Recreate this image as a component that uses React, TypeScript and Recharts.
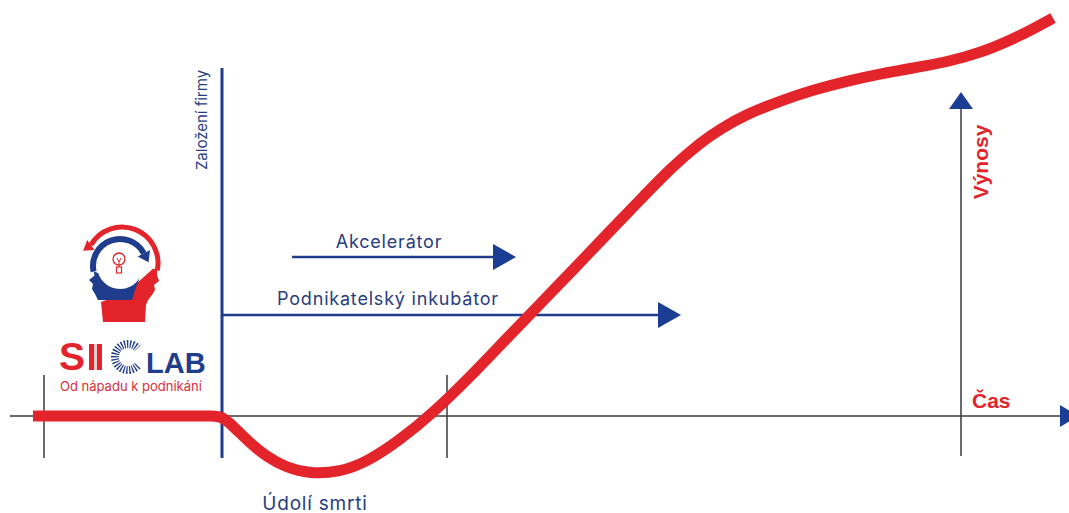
import React from "react";
import { LineChart, Line, XAxis, YAxis, ReferenceLine, ReferenceDot } from "recharts";

// Time axis positions and revenue curve values (revenue: 0 = break-even line)
const timePoints = [33, 200, 212, 222, 236, 250, 267, 285, 310, 340, 367, 400, 433, 470, 507, 540, 573, 607, 640, 673, 700, 720, 747, 780, 813, 847, 880, 913, 947, 980, 1013, 1033, 1053];
const revenueValues = [0, 0, 0, 0, -13, -27, -41, -51, -58, -56, -46, -24, 3, 39, 78, 112, 146, 182, 216, 250, 273, 287, 302, 315, 326, 335, 342, 348, 354, 363, 377, 387, 398];

// Milestones on the time axis
const milestoneTicks = [44, 447];
const foundingTime = 222;
const revenueAxisTime = 961;

// Programme ranges (start, end, level)
const programLabels = ["Akcelerátor", "Podnikatelský inkubátor"];
const programStart = [292, 222];
const programEnd = [493, 658];
const programLevel = [159, 101];
const programLabelX = [389, 388];
const programLabelLevel = [175, 118];

const curve = timePoints.map((t, i) => ({ t, v: revenueValues[i] }));

const BLUE = "#1f3d8c";
const BLUE_TEXT = "#283d7e";
const RED = "#e3242b";
const DARK = "#3a3a3a";
const FONT = "Inter, 'Noto Sans', sans-serif";
const BOLD_FONT = "'Liberation Sans', Arial, sans-serif";

const arrowHead = (dir: "right" | "up", len: number, half: number, fill: string) => (props: any) => {
  const { cx, cy } = props;
  if (cx == null || cy == null) return <g />;
  const pts =
    dir === "right"
      ? `${cx},${cy - half} ${cx + len},${cy} ${cx},${cy + half}`
      : `${cx - half},${cy} ${cx},${cy - len} ${cx + half},${cy}`;
  return <polygon points={pts} fill={fill} />;
};

const textShape = (
  text: string,
  opts: { size: number; fill: string; anchor?: string; angle?: number; weight?: number; family?: string; spacing?: number }
) => (props: any) => {
  const { cx, cy } = props;
  if (cx == null || cy == null) return <g />;
  return (
    <text
      x={cx}
      y={cy}
      fill={opts.fill}
      fontSize={opts.size}
      fontFamily={opts.family || FONT}
      fontWeight={opts.weight || 400}
      letterSpacing={opts.spacing || 0}
      textAnchor={(opts.anchor as any) || "middle"}
      dominantBaseline="central"
      transform={opts.angle ? `rotate(${opts.angle} ${cx} ${cy})` : undefined}
    >
      {text}
    </text>
  );
};

function Logo() {
  const rc = { x: 122, y: 263, r: 36 };
  const bc = { x: 120, y: 266, r: 27 };
  const p = (c: any, deg: number) => {
    const a = (deg * Math.PI) / 180;
    return [c.x + c.r * Math.cos(a), c.y + c.r * Math.sin(a)];
  };
  // arrow head polygon at point with tangent direction
  const head = (x: number, y: number, dx: number, dy: number, len: number, half: number) => {
    const nx = -dy, ny = dx;
    return `${x + dx * len},${y + dy * len} ${x + nx * half},${y + ny * half} ${x - nx * half},${y - ny * half}`;
  };
  const ra0 = -150, ra1 = 12;
  const [r0x, r0y] = p(rc, ra0);
  const [r1x, r1y] = p(rc, ra1);
  const t0 = (ra0 * Math.PI) / 180;
  const redHead = head(r0x, r0y, Math.sin(t0) * 0.6 - 0.4, -Math.cos(t0) * 0.6, 11, 7);
  const ba0 = 168, ba1 = 332;
  const [b0x, b0y] = p(bc, ba0);
  const [b1x, b1y] = p(bc, ba1);
  const t1 = (ba1 * Math.PI) / 180;
  const blueHead = head(b1x, b1y, -Math.sin(t1), Math.cos(t1), 10, 7);
  const inner = { x: 120, y: 266, r: 23 };
  const [i0x, i0y] = p(inner, 30);
  const [i1x, i1y] = p(inner, 162);
  const cc = { x: 128, y: 357, r: 13 };
  const [c0x, c0y] = p(cc, 42);
  const [c1x, c1y] = p(cc, 318);
  return (
    <svg width={1069} height={513} style={{ position: "absolute", left: 0, top: 0, pointerEvents: "none" }}>
      {/* red head facing right */}
      <path d={`M${r1x - 4},${r1y - 2} L${r1x},${r1y} L157,275 L159,281 L154,285 L155,290 L152,295 L148,300 L146,305 L145,322 L103,322 L101,302 L112,298 L131,298 L136,284 Z`} fill={RED} />
      {/* blue head facing left */}
      <path d={`M${b0x},${b0y} L${b0x + 1},${b0y + 4} L89,280 L93,284 L92,289 L95,294 L98,300 L132,300 L135,290 L${i0x},${i0y} A${inner.r},${inner.r} 0 0 1 ${i1x},${i1y} Z`} fill={BLUE} />
      <path d={`M${r0x},${r0y} A${rc.r},${rc.r} 0 0 1 ${r1x},${r1y}`} fill="none" stroke={RED} strokeWidth={5} />
      <polygon points={redHead} fill={RED} />
      <path d={`M${b0x},${b0y} A${bc.r},${bc.r} 0 0 1 ${b1x},${b1y}`} fill="none" stroke={BLUE} strokeWidth={6} />
      <polygon points={blueHead} fill={BLUE} />
      {/* bulb */}
      <circle cx={119} cy={259} r={6} fill="none" stroke={RED} strokeWidth={1.3} />
      <rect x={116.5} y={267} width={5} height={6} fill="none" stroke={RED} strokeWidth={1.2} />
      <path d="M117,258 L119,262 L121,258 M119,262 L119,267" fill="none" stroke={RED} strokeWidth={1} />
      {/* SI C LAB */}
      <text x={59} y={370} fill={RED} fontSize={39} fontWeight={700} fontFamily={BOLD_FONT}>S</text>
      <rect x={89} y={344} width={5} height={26} fill={RED} />
      <rect x={97} y={344} width={5} height={26} fill={RED} />
      <rect x={94} y={344} width={3} height={26} fill="#f4c9cb" />
      <path d={`M${c0x},${c0y} A${cc.r},${cc.r} 0 1 1 ${c1x},${c1y}`} fill="none" stroke={BLUE} strokeWidth={8} strokeDasharray="1.3 1.5" />
      <text x={146} y={373} fill={BLUE} fontSize={29} fontWeight={700} fontFamily={BOLD_FONT}>LAB</text>
      <text x={60} y={391} fill="#d9303a" fontSize={13} fontFamily={FONT}>Od nápadu k podnikání</text>
    </svg>
  );
}

export default function App() {
  return (
    <div style={{ position: "absolute", left: 0, top: 0, width: 1069, height: 513, background: "#fff" }}>
      <LineChart width={1069} height={513} data={curve} margin={{ top: 0, right: 0, bottom: 0, left: 0 }}>
        <XAxis type="number" dataKey="t" domain={[0, 1069]} hide allowDataOverflow />
        <YAxis type="number" domain={[-97, 416]} hide allowDataOverflow />
        <ReferenceLine segment={[{ x: 10, y: 0 }, { x: 1062, y: 0 }]} stroke={DARK} strokeWidth={1.5} />
        {milestoneTicks.map((x) => (
          <ReferenceLine key={x} segment={[{ x, y: 41 }, { x, y: -42 }]} stroke={DARK} strokeWidth={1.5} />
        ))}
        <ReferenceLine segment={[{ x: revenueAxisTime, y: 310 }, { x: revenueAxisTime, y: -40 }]} stroke={DARK} strokeWidth={1.5} />
        <ReferenceLine segment={[{ x: foundingTime, y: 348 }, { x: foundingTime, y: -42 }]} stroke={BLUE} strokeWidth={3} />
        {programLabels.map((_, i) => (
          <ReferenceLine key={"p" + i} segment={[{ x: programStart[i], y: programLevel[i] }, { x: programEnd[i], y: programLevel[i] }]} stroke={BLUE} strokeWidth={2.5} />
        ))}
        <Line dataKey="v" type="basis" stroke={RED} strokeWidth={11} dot={false} activeDot={false} isAnimationActive={false} strokeLinejoin="round" />
        {programLabels.map((_, i) => (
          <ReferenceDot key={"a" + i} x={programEnd[i]} y={programLevel[i]} r={0} shape={arrowHead("right", 23, 13, "#1b3d94")} />
        ))}
        {programLabels.map((label, i) => (
          <ReferenceDot key={"l" + i} x={programLabelX[i]} y={programLabelLevel[i]} r={0} shape={textShape(label, { size: 18, fill: BLUE_TEXT, spacing: 0.8 })} />
        ))}
        <ReferenceDot x={1060} y={0} r={0} shape={arrowHead("right", 18, 11, "#1b3d94")} />
        <ReferenceDot x={revenueAxisTime} y={307} r={0} shape={arrowHead("up", 17, 12, "#1b3d94")} />
        <ReferenceDot x={201} y={296} r={0} shape={textShape("Založení firmy", { size: 15, fill: BLUE_TEXT, angle: -90 })} />
        <ReferenceDot x={315} y={-87} r={0} shape={textShape("Údolí smrti", { size: 19, fill: BLUE_TEXT, spacing: 0.8 })} />
        <ReferenceDot x={980} y={254} r={0} shape={textShape("Výnosy", { size: 21, fill: RED, angle: -90, weight: 700, family: BOLD_FONT })} />
        <ReferenceDot x={972} y={16} r={0} shape={textShape("Čas", { size: 21, fill: RED, anchor: "start", weight: 700, family: BOLD_FONT })} />
      </LineChart>
      <Logo />
    </div>
  );
}
